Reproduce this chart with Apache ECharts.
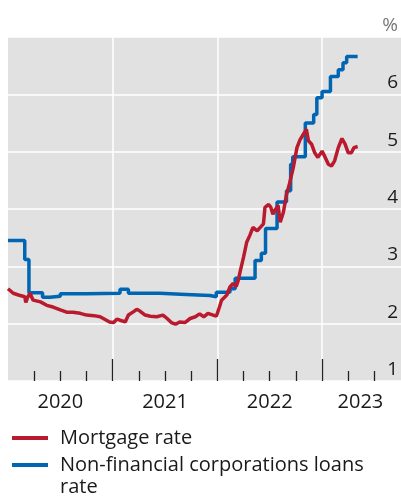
<!DOCTYPE html>
<html>
<head>
<meta charset="utf-8">
<script src="https://cdn.jsdelivr.net/npm/echarts@6/dist/echarts.min.js"></script>
<style>
  html, body { margin: 0; padding: 0; background: #fff; }
  #chart { width: 401px; height: 496px; }
</style>
</head>
<body>
<div id="chart"></div>
<script>
// decimal years (2020.5 = mid 2020) and rates in %
const mortgageT = [
  2020.00, 2020.05, 2020.10, 2020.16, 2020.17, 2020.19, 2020.21, 2020.24, 2020.31, 2020.37,
  2020.43, 2020.50, 2020.56, 2020.62, 2020.69, 2020.75, 2020.82, 2020.88, 2020.94, 2020.97,
  2021.01, 2021.04, 2021.07, 2021.12, 2021.15, 2021.20, 2021.23, 2021.26, 2021.31, 2021.36,
  2021.42, 2021.48, 2021.52, 2021.56, 2021.60, 2021.64, 2021.69, 2021.74, 2021.79, 2021.83,
  2021.87, 2021.91, 2021.96, 2021.99, 2022.02, 2022.04, 2022.09, 2022.12, 2022.15, 2022.18,
  2022.20, 2022.22, 2022.25, 2022.28, 2022.31, 2022.34, 2022.38, 2022.41, 2022.44, 2022.455,
  2022.49, 2022.51, 2022.53, 2022.55, 2022.58, 2022.60, 2022.63, 2022.66, 2022.69, 2022.725,
  2022.76, 2022.79, 2022.82, 2022.85, 2022.87, 2022.90, 2022.93, 2022.96, 2023.00, 2023.03,
  2023.06, 2023.09, 2023.12, 2023.155, 2023.19, 2023.22, 2023.25, 2023.28, 2023.305, 2023.34
];
const mortgageRate = [
  2.61, 2.53, 2.50, 2.47, 2.37, 2.47, 2.53, 2.41, 2.38, 2.32,
  2.29, 2.24, 2.20, 2.20, 2.18, 2.15, 2.14, 2.12, 2.06, 2.03,
  2.02, 2.08, 2.06, 2.03, 2.15, 2.21, 2.25, 2.22, 2.15, 2.13,
  2.12, 2.15, 2.09, 2.02, 1.99, 2.03, 2.02, 2.09, 2.12, 2.17,
  2.12, 2.18, 2.15, 2.13, 2.29, 2.41, 2.50, 2.64, 2.70, 2.65,
  2.76, 2.93, 3.16, 3.42, 3.54, 3.68, 3.62, 3.68, 3.74, 4.03,
  4.08, 4.03, 3.91, 3.98, 4.06, 3.77, 3.94, 4.25, 4.45, 4.72,
  5.07, 5.21, 5.30, 5.39, 5.19, 5.13, 4.98, 4.90, 5.01, 4.90,
  4.78, 4.75, 4.84, 5.07, 5.23, 5.13, 4.98, 4.98, 5.07, 5.09
];

const nfcT = [
  2020.00, 2020.16, 2020.20, 2020.33, 2020.40, 2020.50, 2020.75, 2021.07, 2021.15, 2021.45,
  2021.70, 2021.93, 2021.99, 2022.12, 2022.17, 2022.36, 2022.42, 2022.46, 2022.57, 2022.66,
  2022.70, 2022.72, 2022.84, 2022.92, 2022.95, 2023.00, 2023.08, 2023.155, 2023.20, 2023.235,
  2023.34
];
const nfcRate = [
  3.45, 3.12, 2.54, 2.46, 2.48, 2.52, 2.53, 2.60, 2.53, 2.51,
  2.49, 2.47, 2.55, 2.61, 2.79, 3.10, 3.23, 3.66, 4.12, 4.32,
  4.78, 4.91, 5.50, 5.65, 5.94, 6.05, 6.31, 6.43, 6.55, 6.66,
  6.66
];

const yearTicks = [2021, 2022, 2023];
const quarterTicks = [
  2020.25, 2020.5, 2020.75, 2021.25, 2021.5, 2021.75,
  2022.25, 2022.5, 2022.75, 2023.25, 2023.5
];
const yearLabels = ['2020', '2021', '2022', '2023'];
const yearLabelAt = [2020.5, 2021.5, 2022.5, 2023.5];

const FONT = 'Open Sans';
const INK = '#1a1a1a';
const RED = '#BA1A2E';
const BLUE = '#0066B3';

const chart = echarts.init(document.getElementById('chart'));

const pairs = (xs, ys) => xs.map((x, i) => [x, ys[i]]);

const legendText = {
  color: INK,
  fontSize: 20,
  lineHeight: 22,
  fontFamily: FONT,
  padding: [0, 0, 0, 7],
};

chart.setOption({
  animation: false,
  textStyle: { fontFamily: FONT },
  grid: {
    left: 8,
    right: 0,
    top: 37,
    bottom: 115,
    show: true,
    backgroundColor: '#e1e1e1',
    borderWidth: 0,
  },
  legend: [
    {
      left: 12,
      top: 427,
      padding: 0,
      orient: 'vertical',
      icon: 'rect',
      itemWidth: 36,
      itemHeight: 4,
      data: ['Mortgage rate'],
      textStyle: legendText,
    },
    {
      // empty first line keeps the icon level with the first text line
      left: 12,
      top: 432,
      padding: 0,
      orient: 'vertical',
      icon: 'rect',
      itemWidth: 36,
      itemHeight: 4,
      data: ['Non-financial corporations loans rate'],
      formatter: () => '\nNon-financial corporations loans\nrate',
      textStyle: legendText,
    },
  ],
  xAxis: [
    {
      type: 'value',
      min: 2020,
      max: 2023.754,
      interval: 1,
      axisLine: { show: false },
      axisLabel: { show: false },
      axisTick: {
        show: true,
        inside: true,
        length: 22,
        customValues: yearTicks,
        lineStyle: { color: '#222', width: 1.3 },
      },
      splitLine: { show: true, lineStyle: { color: '#fff', width: 1.5 } },
    },
    {
      type: 'value',
      min: 2020,
      max: 2023.754,
      position: 'bottom',
      axisLine: { show: false },
      splitLine: { show: false },
      axisTick: {
        show: true,
        inside: true,
        length: 10,
        customValues: quarterTicks,
        lineStyle: { color: '#222', width: 1.3 },
      },
      axisLabel: {
        show: true,
        customValues: yearLabelAt,
        margin: 11,
        color: INK,
        fontSize: 20,
        fontFamily: FONT,
        formatter: (v) => {
          const i = yearLabelAt.indexOf(v);
          if (i < 0) return '';
          return i === yearLabels.length - 1 ? '{last|' + yearLabels[i] + '}' : yearLabels[i];
        },
        rich: {
          last: { color: INK, fontSize: 20, fontFamily: FONT, padding: [0, 28, 0, 0] },
        },
      },
    },
  ],
  yAxis: {
    type: 'value',
    position: 'right',
    min: 1,
    max: 7,
    interval: 1,
    name: '%',
    nameLocation: 'end',
    nameGap: 0,
    nameTextStyle: {
      color: '#777',
      fontSize: 19,
      fontFamily: FONT,
      align: 'right',
      verticalAlign: 'bottom',
      padding: [0, 3, 2, 0],
    },
    axisLine: { show: false },
    axisTick: { show: false },
    axisLabel: {
      inside: true,
      margin: 3,
      showMaxLabel: false,
      verticalAlign: 'bottom',
      padding: [0, 0, 2, 0],
      color: INK,
      fontSize: 19,
      fontFamily: FONT,
    },
    splitLine: { show: true, lineStyle: { color: '#fff', width: 1.5 } },
  },
  series: [
    {
      name: 'Non-financial corporations loans rate',
      type: 'line',
      step: 'end',
      showSymbol: false,
      data: pairs(nfcT, nfcRate),
      lineStyle: { color: BLUE, width: 3.5 },
      itemStyle: { color: BLUE },
    },
    {
      name: 'Mortgage rate',
      type: 'line',
      showSymbol: false,
      data: pairs(mortgageT, mortgageRate),
      lineStyle: { color: RED, width: 3.5 },
      itemStyle: { color: RED },
    },
  ],
});
</script>
</body>
</html>
